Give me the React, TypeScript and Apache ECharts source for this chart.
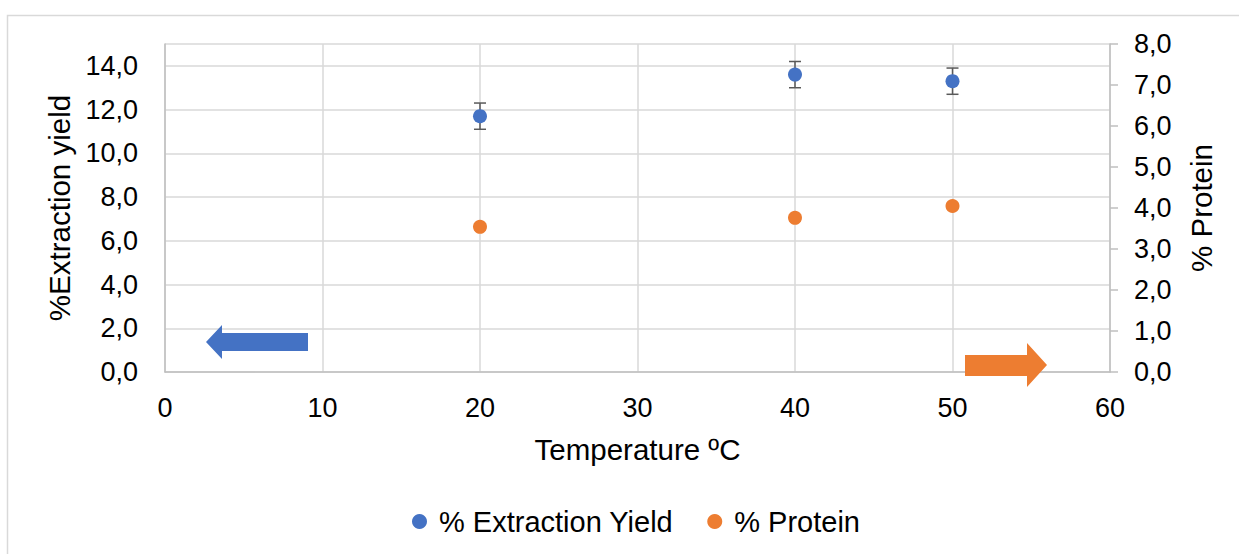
import React, { useEffect, useRef } from "react";
import * as echarts from "echarts";

const temperatures = [20, 40, 50];
const extractionYield = [11.7, 13.6, 13.3];
const extractionErr = [0.6, 0.6, 0.6];
const protein = [3.54, 3.76, 4.05];
const proteinErr = [0.05, 0.05, 0.05];

const BLUE = "#4472c4";
const ORANGE = "#ed7d31";
const FONT = "Liberation Sans, Arial, sans-serif";

function errorSeries(name: string, yAxisIndex: number, xs: number[], ys: number[], errs: number[]) {
  return {
    type: "custom",
    name,
    yAxisIndex,
    silent: true,
    z: 1,
    data: xs.map((x, i) => [x, ys[i] - errs[i], ys[i] + errs[i]]),
    renderItem: (params: any, api: any) => {
      const x = api.value(0);
      const lo = api.coord([x, api.value(1)]);
      const hi = api.coord([x, api.value(2)]);
      const w = 6;
      const style = { stroke: "#595959", lineWidth: 1.5 };
      return {
        type: "group",
        children: [
          { type: "line", shape: { x1: lo[0], y1: lo[1], x2: hi[0], y2: hi[1] }, style },
          { type: "line", shape: { x1: lo[0] - w, y1: lo[1], x2: lo[0] + w, y2: lo[1] }, style },
          { type: "line", shape: { x1: hi[0] - w, y1: hi[1], x2: hi[0] + w, y2: hi[1] }, style },
        ],
      };
    },
  };
}

export default function App() {
  const ref = useRef<HTMLDivElement>(null);
  useEffect(() => {
    const chart = echarts.init(ref.current!, null, { renderer: "svg" });
    const labelStyle = { color: "#000", fontSize: 27, fontFamily: FONT };
    const nameStyle = { color: "#000", fontSize: 29.5, fontFamily: FONT };
    chart.setOption({
      animation: false,
      backgroundColor: "#fff",
      grid: { left: 165, right: 129, top: 44, bottom: 182 },
      legend: {
        bottom: 13,
        left: 407,
        icon: "circle",
        itemWidth: 15,
        itemHeight: 15,
        itemGap: 34,
        textStyle: { color: "#000", fontSize: 29, fontFamily: FONT, padding: [0, 0, 0, 7] },
        data: ["% Extraction Yield", "% Protein"],
      },
      xAxis: {
        type: "value",
        min: 0,
        max: 60,
        interval: 10,
        name: "Temperature ºC",
        nameLocation: "middle",
        nameGap: 62,
        nameTextStyle: nameStyle,
        axisLine: { show: true, lineStyle: { color: "#bfbfbf", width: 1.5 } },
        axisTick: { show: false },
        axisLabel: { ...labelStyle, margin: 22 },
        splitLine: { show: true, lineStyle: { color: "#d9d9d9", width: 1.5 } },
      },
      yAxis: [
        {
          type: "value",
          min: 0,
          max: 15,
          interval: 2,
          name: "%Extraction yield",
          nameLocation: "middle",
          nameRotate: 90,
          nameGap: 90,
          nameTextStyle: nameStyle,
          axisLine: { show: true, lineStyle: { color: "#bfbfbf", width: 1.5 } },
          axisTick: { show: false },
          axisLabel: { ...labelStyle, margin: 27, formatter: (v: number) => (v > 14 ? "" : v.toFixed(1).replace(".", ",")) },
          splitLine: { show: true, lineStyle: { color: "#d9d9d9", width: 1.5 } },
        },
        {
          type: "value",
          position: "right",
          min: 0,
          max: 8,
          interval: 1,
          name: "% Protein",
          nameLocation: "middle",
          nameRotate: 90,
          nameGap: 76,
          nameTextStyle: nameStyle,
          axisLine: { show: true, lineStyle: { color: "#bfbfbf", width: 1.5 } },
          axisTick: { show: true, inside: false, length: 8, lineStyle: { color: "#bfbfbf", width: 1.5 } },
          axisLabel: { ...labelStyle, margin: 24, formatter: (v: number) => v.toFixed(1).replace(".", ",") },
          splitLine: { show: false },
        },
      ],
      series: [
        errorSeries("err1", 0, temperatures, extractionYield, extractionErr),
        errorSeries("err2", 1, temperatures, protein, proteinErr),
        {
          name: "% Extraction Yield",
          type: "scatter",
          yAxisIndex: 0,
          symbol: "circle",
          symbolSize: 14,
          itemStyle: { color: BLUE, opacity: 1 },
          z: 3,
          data: temperatures.map((t, i) => [t, extractionYield[i]]),
        },
        {
          name: "% Protein",
          type: "scatter",
          yAxisIndex: 1,
          symbol: "circle",
          symbolSize: 14,
          itemStyle: { color: ORANGE, opacity: 1 },
          z: 3,
          data: temperatures.map((t, i) => [t, protein[i]]),
        },
      ],
      graphic: [
        {
          type: "rect",
          shape: { x: 7.5, y: 15.5, width: 1240, height: 550 },
          style: { fill: "none", stroke: "#d9d9d9", lineWidth: 1.5 },
          silent: true,
        },
        {
          type: "polygon",
          shape: {
            points: [
              [206, 342],
              [222, 325],
              [222, 333],
              [308, 333],
              [308, 351],
              [222, 351],
              [222, 359],
            ],
          },
          style: { fill: BLUE },
          z: 10,
        },
        {
          type: "polygon",
          shape: {
            points: [
              [965, 355],
              [1027, 355],
              [1027, 343],
              [1047, 365],
              [1027, 387],
              [1027, 376],
              [965, 376],
            ],
          },
          style: { fill: ORANGE },
          z: 10,
        },
      ],
    });
    return () => chart.dispose();
  }, []);
  return (
    <div
      ref={ref}
      style={{ position: "absolute", left: 0, top: 0, width: 1239, height: 554 }}
    />
  );
}
